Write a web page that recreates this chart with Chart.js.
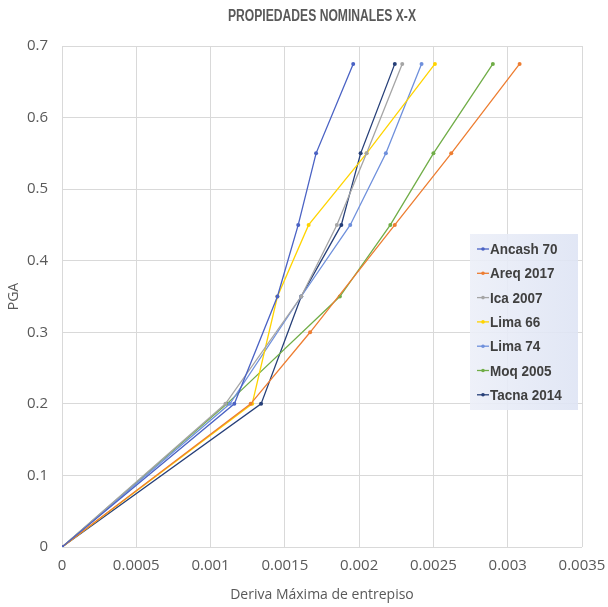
<!DOCTYPE html>
<html>
<head>
<meta charset="utf-8">
<script src="https://cdn.jsdelivr.net/npm/chart.js@4"></script>
<style>
  html, body { margin: 0; padding: 0; background: #fff; }
  #wrap { width: 608px; height: 607px; position: relative; }
</style>
</head>
<body>
<div id="wrap"><canvas id="myChart"></canvas></div>
<script>
// data
var seriesNames = ["Ancash 70", "Areq 2017", "Ica 2007", "Lima 66", "Lima 74", "Moq 2005", "Tacna 2014"];
var seriesColors = ["#4a62c4", "#ed7d31", "#a5a5a5", "#ffd400", "#6f90dc", "#70ad47", "#263f78"];

var pgaLevels = [0, 0.2, 0.35, 0.45, 0.55, 0.675];
var areqLevels = [0, 0.2, 0.3, 0.45, 0.55, 0.675];

var ancashDrift = [0, 0.00116, 0.00145, 0.00159, 0.00171, 0.00196];
var areqDrift   = [0, 0.00127, 0.00167, 0.00224, 0.00262, 0.00308];
var icaDrift    = [0, 0.00110, 0.00161, 0.00185, 0.00205, 0.00229];
var lima66Drift = [0, 0.00128, 0.00145, 0.00166, 0.00205, 0.00251];
var lima74Drift = [0, 0.00113, 0.00161, 0.00194, 0.00218, 0.00242];
var moqDrift    = [0, 0.00111, 0.00187, 0.00221, 0.00250, 0.00290];
var tacnaDrift  = [0, 0.00134, 0.00161, 0.00188, 0.00201, 0.00224];

var xTicks = [0, 0.0005, 0.001, 0.0015, 0.002, 0.0025, 0.003, 0.0035];

var allDrift = [ancashDrift, areqDrift, icaDrift, lima66Drift, lima74Drift, moqDrift, tacnaDrift];
var allLevels = [pgaLevels, areqLevels, pgaLevels, pgaLevels, pgaLevels, pgaLevels, pgaLevels];

var datasets = [];
for (var i = 0; i < seriesNames.length; i++) {
    var pts = [];
    for (var j = 0; j < allDrift[i].length; j++) {
        pts.push({x: allDrift[i][j], y: allLevels[i][j]});
    }
    datasets.push({
        label: seriesNames[i],
        data: pts,
        showLine: true,
        fill: false,
        borderColor: seriesColors[i],
        backgroundColor: seriesColors[i],
        borderWidth: 1.3,
        pointRadius: 2,
        pointBorderWidth: 0
    });
}

var textGray = "#595959";

// draw text squeezed to a given width (Calibri-like narrow look)
function narrowText(c, txt, x, y, w) {
    var m = c.measureText(txt).width;
    c.save();
    c.translate(x, y);
    c.scale(w / m, 1);
    c.fillText(txt, 0, 0);
    c.restore();
}

// title + legend drawn by hand so the plot area keeps its size
var extras = {
    id: 'extras',
    afterDraw: function(chart) {
        var c = chart.ctx;
        c.save();
        c.fillStyle = textGray;
        c.font = "bold 16px 'Liberation Sans', sans-serif";
        c.textAlign = "center";
        c.textBaseline = "middle";
        narrowText(c, "PROPIEDADES NOMINALES X-X", 322, 17, 188);

        // legend box
        var bx = 470, by = 234, bw = 108, bh = 176;
        var g = c.createLinearGradient(bx, 0, bx + bw, 0);
        g.addColorStop(0, "rgba(236,239,248,0.9)");
        g.addColorStop(1, "rgba(222,228,244,0.9)");
        c.fillStyle = g;
        c.fillRect(bx, by, bw, bh);

        c.font = "bold 15px 'Liberation Sans', sans-serif";
        c.textAlign = "left";
        for (var k = 0; k < chart.data.datasets.length; k++) {
            var ds = chart.data.datasets[k];
            var yy = 249 + k * 24.3;
            c.strokeStyle = ds.borderColor;
            c.lineWidth = 1.3;
            c.beginPath();
            c.moveTo(477, yy);
            c.lineTo(489, yy);
            c.stroke();
            c.fillStyle = ds.borderColor;
            c.beginPath();
            c.arc(483, yy, 1.8, 0, Math.PI * 2);
            c.fill();
            c.fillStyle = "#404040";
            var w = c.measureText(ds.label).width * 0.9;
            narrowText(c, ds.label, 490, yy + 1, w);
        }
        c.restore();
    }
};

var ctx = document.getElementById("myChart").getContext('2d');
var myChart = new Chart(ctx, {
    type: 'scatter',
    data: { datasets: datasets },
    options: {
        responsive: true,
        maintainAspectRatio: false,
        animation: false,
        layout: { padding: { top: 46, right: 26, left: 0, bottom: 0 } },
        plugins: {
            legend: { display: false },
            tooltip: { enabled: false }
        },
        scales: {
            x: {
                type: 'linear',
                min: 0,
                max: 0.0035,
                afterBuildTicks: function(axis) {
                    axis.ticks = xTicks.map(function(v) { return {value: v}; });
                },
                afterFit: function(axis) {
                    axis.height = 60;
                    axis.paddingLeft = 0;
                    axis.paddingRight = 0;
                },
                grid: { color: "#d9d9d9", drawTicks: false },
                border: { display: false },
                ticks: {
                    color: textGray,
                    padding: 10,
                    font: { size: 15, family: "'Open Sans', sans-serif" },
                    callback: function(v) { return String(+v.toFixed(4)); }
                },
                title: {
                    display: true,
                    text: "Deriva Máxima de entrepiso",
                    color: textGray,
                    padding: { top: 2 },
                    font: { size: 14, family: "'Open Sans', sans-serif" }
                }
            },
            y: {
                min: 0,
                max: 0.7,
                afterFit: function(axis) {
                    axis.width = 62;
                    axis.paddingTop = 0;
                    axis.paddingBottom = 0;
                },
                grid: { color: "#d9d9d9", drawTicks: false },
                border: { display: false },
                ticks: {
                    stepSize: 0.1,
                    color: textGray,
                    padding: 14,
                    font: { size: 15, family: "'Open Sans', sans-serif" },
                    callback: function(v) { return String(+v.toFixed(1)); }
                },
                title: {
                    display: true,
                    text: "PGA",
                    color: textGray,
                    padding: { top: 6, bottom: 0 },
                    font: { size: 14, family: "'Open Sans', sans-serif" }
                }
            }
        }
    },
    plugins: [extras]
});
</script>
</body>
</html>
